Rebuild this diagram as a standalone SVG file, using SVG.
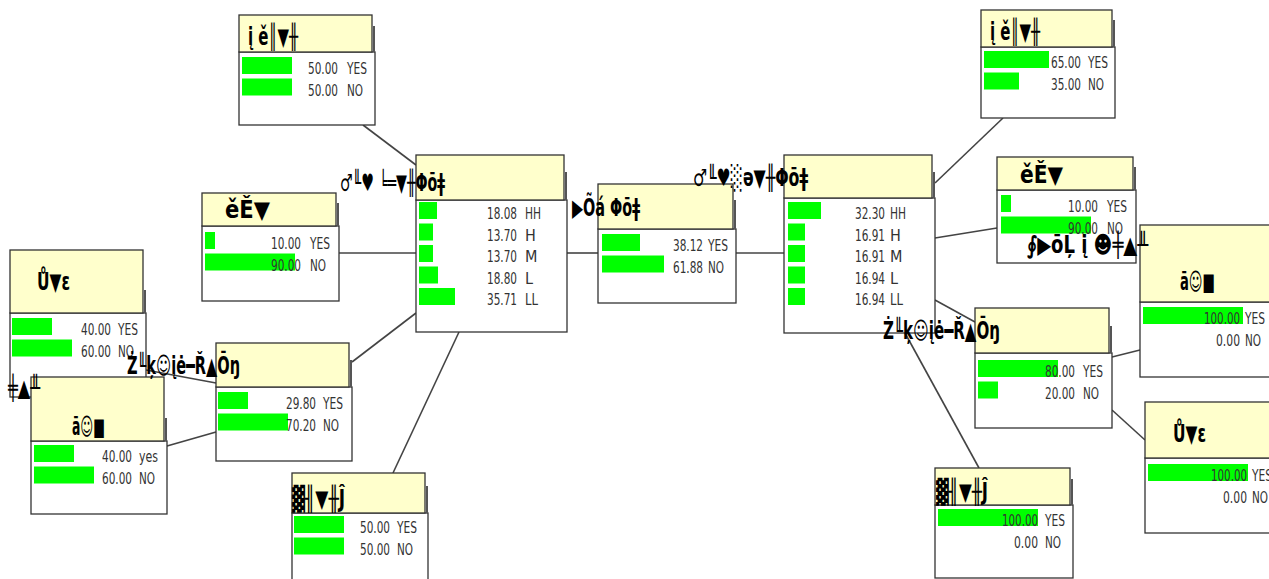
<svg xmlns="http://www.w3.org/2000/svg" width="1269" height="579" viewBox="0 0 1269 579">
<style>
.body{fill:#fff;stroke:#333;stroke-width:1.3}
.title{fill:#ffffcc;stroke:#333;stroke-width:1.3}
.sh{stroke:#555;stroke-width:2}
.bar{fill:#00ff00}
.num{font-family:"DejaVu Sans Condensed","DejaVu Sans",sans-serif;font-size:16px;fill:#333;text-anchor:end}
.lab{font-family:"DejaVu Sans Condensed","DejaVu Sans",sans-serif;font-size:16px;fill:#333}
.ttl{font-family:"DejaVu Sans","Noto Sans",sans-serif;font-weight:bold;font-size:24px;fill:#000}
.edge{stroke:#444;stroke-width:1.6;fill:none}
</style>
<rect width="1269" height="579" fill="#fff"/>
<g id="connectors">
<line class="edge" x1="363" y1="125" x2="416" y2="165"/>
<line class="edge" x1="339" y1="253" x2="416" y2="253"/>
<line class="edge" x1="352" y1="362" x2="416" y2="313"/>
<line class="edge" x1="393" y1="473" x2="459" y2="332"/>
<line class="edge" x1="567" y1="253" x2="598" y2="253"/>
<line class="edge" x1="736" y1="253" x2="784" y2="253"/>
<line class="edge" x1="935" y1="183" x2="1003" y2="118"/>
<line class="edge" x1="935" y1="238" x2="997" y2="228"/>
<line class="edge" x1="935" y1="300" x2="975" y2="322"/>
<line class="edge" x1="905" y1="333" x2="979" y2="468"/>
<line class="edge" x1="1112" y1="357" x2="1140" y2="350"/>
<line class="edge" x1="1112" y1="410" x2="1145" y2="440"/>
<line class="edge" x1="146" y1="370" x2="216" y2="383"/>
<line class="edge" x1="167" y1="446" x2="216" y2="432"/>
</g>

<g id="nodeN">
<rect class="body" x="10" y="313" width="136" height="84"/>
<rect class="title" x="10" y="250" width="133" height="63"/>
<line class="sh" x1="145" y1="290" x2="145" y2="313"/>
<text class="ttl" x="37" y="290" textLength="33" lengthAdjust="spacingAndGlyphs">Ů▼ɛ</text>
<rect class="bar" x="12" y="318" width="40" height="17"/>
<rect class="bar" x="12" y="339.5" width="60" height="17"/>
<text class="num" x="111" y="335" textLength="30" lengthAdjust="spacingAndGlyphs">40.00</text>
<text class="lab" x="118" y="335" textLength="20" lengthAdjust="spacingAndGlyphs">YES</text>
<text class="num" x="111" y="356.5" textLength="30" lengthAdjust="spacingAndGlyphs">60.00</text>
<text class="lab" x="118" y="356.5" textLength="16" lengthAdjust="spacingAndGlyphs">NO</text>
</g>

<g id="nodeO">
<rect class="body" x="31" y="441" width="136" height="73"/>
<rect class="title" x="31" y="377" width="133" height="64"/>
<line class="sh" x1="166" y1="418" x2="166" y2="441"/>
<text class="ttl" x="72" y="435" textLength="33" lengthAdjust="spacingAndGlyphs">ā☺■</text>
<text class="ttl" x="8" y="396" textLength="32" lengthAdjust="spacingAndGlyphs">╪▲╨</text>
<rect class="bar" x="34" y="445" width="40" height="17"/>
<rect class="bar" x="34" y="466.5" width="60" height="17"/>
<text class="num" x="132" y="462" textLength="30" lengthAdjust="spacingAndGlyphs">40.00</text>
<text class="lab" x="139" y="462" textLength="19" lengthAdjust="spacingAndGlyphs">yes</text>
<text class="num" x="132" y="483.5" textLength="30" lengthAdjust="spacingAndGlyphs">60.00</text>
<text class="lab" x="139" y="483.5" textLength="16" lengthAdjust="spacingAndGlyphs">NO</text>
</g>

<g id="nodeM">
<rect class="body" x="202" y="226" width="137" height="75"/>
<rect class="title" x="202" y="193" width="134" height="33"/>
<line class="sh" x1="338" y1="203" x2="338" y2="226"/>
<text class="ttl" x="225" y="218" textLength="45" lengthAdjust="spacingAndGlyphs">ěĚ▼</text>
<rect class="bar" x="205" y="232" width="10" height="17"/>
<rect class="bar" x="205" y="253.5" width="90" height="17"/>
<text class="num" x="301" y="249" textLength="30" lengthAdjust="spacingAndGlyphs">10.00</text>
<text class="lab" x="310" y="249" textLength="20" lengthAdjust="spacingAndGlyphs">YES</text>
<text class="num" x="301" y="270.5" textLength="30" lengthAdjust="spacingAndGlyphs">90.00</text>
<text class="lab" x="310" y="270.5" textLength="16" lengthAdjust="spacingAndGlyphs">NO</text>
</g>

<g id="nodeA">
<rect class="body" x="239" y="52" width="136" height="73"/>
<rect class="title" x="239" y="15" width="133" height="37"/>
<line class="sh" x1="374" y1="26" x2="374" y2="52"/>
<text class="ttl" x="248" y="45" textLength="50" lengthAdjust="spacingAndGlyphs">į ě║▼╫</text>
<rect class="bar" x="242" y="57" width="50" height="17"/>
<rect class="bar" x="242" y="78.5" width="50" height="17"/>
<text class="num" x="338" y="74" textLength="30" lengthAdjust="spacingAndGlyphs">50.00</text>
<text class="lab" x="347" y="74" textLength="20" lengthAdjust="spacingAndGlyphs">YES</text>
<text class="num" x="338" y="95.5" textLength="30" lengthAdjust="spacingAndGlyphs">50.00</text>
<text class="lab" x="347" y="95.5" textLength="16" lengthAdjust="spacingAndGlyphs">NO</text>
</g>

<g id="nodeL">
<rect class="body" x="216" y="387" width="136" height="74"/>
<rect class="title" x="216" y="343" width="133" height="44"/>
<line class="sh" x1="351" y1="360" x2="351" y2="387"/>
<text class="ttl" x="127" y="374" textLength="113" lengthAdjust="spacingAndGlyphs">Ż╙ķ☺įė━Ř▲Ōŋ</text>
<rect class="bar" x="218" y="392" width="30" height="17"/>
<rect class="bar" x="218" y="413.5" width="70" height="17"/>
<text class="num" x="316" y="409" textLength="30" lengthAdjust="spacingAndGlyphs">29.80</text>
<text class="lab" x="323" y="409" textLength="20" lengthAdjust="spacingAndGlyphs">YES</text>
<text class="num" x="316" y="430.5" textLength="30" lengthAdjust="spacingAndGlyphs">70.20</text>
<text class="lab" x="323" y="430.5" textLength="16" lengthAdjust="spacingAndGlyphs">NO</text>
</g>

<g id="nodeK">
<rect class="body" x="292" y="513" width="136" height="80"/>
<rect class="title" x="292" y="473" width="133" height="40"/>
<line class="sh" x1="427" y1="486" x2="427" y2="513"/>
<text class="ttl" x="292" y="507" textLength="53" lengthAdjust="spacingAndGlyphs">▓╢▼╫Ĵ</text>
<rect class="bar" x="294" y="516" width="50" height="17"/>
<rect class="bar" x="294" y="537.5" width="50" height="17"/>
<text class="num" x="390" y="533" textLength="30" lengthAdjust="spacingAndGlyphs">50.00</text>
<text class="lab" x="397" y="533" textLength="20" lengthAdjust="spacingAndGlyphs">YES</text>
<text class="num" x="390" y="554.5" textLength="30" lengthAdjust="spacingAndGlyphs">50.00</text>
<text class="lab" x="397" y="554.5" textLength="16" lengthAdjust="spacingAndGlyphs">NO</text>
</g>

<g id="nodeB">
<rect class="body" x="416" y="200" width="151" height="132"/>
<rect class="title" x="416" y="155" width="148" height="45"/>
<line class="sh" x1="566" y1="172" x2="566" y2="200"/>
<text class="ttl" x="340" y="191" textLength="105" lengthAdjust="spacingAndGlyphs">♂╙♥ ╘═▼╫Φōǂ</text>
<rect class="bar" x="419" y="202" width="18" height="17"/>
<rect class="bar" x="419" y="223.5" width="14" height="17"/>
<rect class="bar" x="419" y="245" width="14" height="17"/>
<rect class="bar" x="419" y="266.5" width="19" height="17"/>
<rect class="bar" x="419" y="288" width="36" height="17"/>
<text class="num" x="517" y="219" textLength="30" lengthAdjust="spacingAndGlyphs">18.08</text>
<text class="lab" x="525" y="219" textLength="16" lengthAdjust="spacingAndGlyphs">HH</text>
<text class="num" x="517" y="240.5" textLength="30" lengthAdjust="spacingAndGlyphs">13.70</text>
<text class="lab" x="525" y="240.5">H</text>
<text class="num" x="517" y="262" textLength="30" lengthAdjust="spacingAndGlyphs">13.70</text>
<text class="lab" x="525" y="262">M</text>
<text class="num" x="517" y="283.5" textLength="30" lengthAdjust="spacingAndGlyphs">18.80</text>
<text class="lab" x="525" y="283.5">L</text>
<text class="num" x="517" y="305" textLength="30" lengthAdjust="spacingAndGlyphs">35.71</text>
<text class="lab" x="525" y="305" textLength="13" lengthAdjust="spacingAndGlyphs">LL</text>
</g>

<g id="nodeC">
<rect class="body" x="598" y="229" width="138" height="74"/>
<rect class="title" x="598" y="184" width="135" height="45"/>
<line class="sh" x1="735" y1="200" x2="735" y2="229"/>
<text class="ttl" x="572" y="216" textLength="68" lengthAdjust="spacingAndGlyphs">▶Õá Φōǂ</text>
<rect class="bar" x="602" y="234" width="38" height="17"/>
<rect class="bar" x="602" y="255.5" width="62" height="17"/>
<text class="num" x="703" y="251" textLength="30" lengthAdjust="spacingAndGlyphs">38.12</text>
<text class="lab" x="708" y="251" textLength="20" lengthAdjust="spacingAndGlyphs">YES</text>
<text class="num" x="703" y="272.5" textLength="30" lengthAdjust="spacingAndGlyphs">61.88</text>
<text class="lab" x="708" y="272.5" textLength="16" lengthAdjust="spacingAndGlyphs">NO</text>
</g>

<g id="nodeD">
<rect class="body" x="784" y="198" width="151" height="135"/>
<rect class="title" x="784" y="155" width="148" height="43"/>
<line class="sh" x1="934" y1="172" x2="934" y2="198"/>
<text class="ttl" x="693" y="186" textLength="115" lengthAdjust="spacingAndGlyphs">♂╙♥░ǝ▼╫Φōǂ</text>
<rect class="bar" x="788" y="202" width="33" height="17"/>
<rect class="bar" x="788" y="223.5" width="17" height="17"/>
<rect class="bar" x="788" y="245" width="17" height="17"/>
<rect class="bar" x="788" y="266.5" width="17" height="17"/>
<rect class="bar" x="788" y="288" width="17" height="17"/>
<text class="num" x="885" y="219" textLength="30" lengthAdjust="spacingAndGlyphs">32.30</text>
<text class="lab" x="890" y="219" textLength="16" lengthAdjust="spacingAndGlyphs">HH</text>
<text class="num" x="885" y="240.5" textLength="30" lengthAdjust="spacingAndGlyphs">16.91</text>
<text class="lab" x="890" y="240.5">H</text>
<text class="num" x="885" y="262" textLength="30" lengthAdjust="spacingAndGlyphs">16.91</text>
<text class="lab" x="890" y="262">M</text>
<text class="num" x="885" y="283.5" textLength="30" lengthAdjust="spacingAndGlyphs">16.94</text>
<text class="lab" x="890" y="283.5">L</text>
<text class="num" x="885" y="305" textLength="30" lengthAdjust="spacingAndGlyphs">16.94</text>
<text class="lab" x="890" y="305" textLength="13" lengthAdjust="spacingAndGlyphs">LL</text>
</g>

<g id="nodeE">
<rect class="body" x="981" y="47" width="134" height="71"/>
<rect class="title" x="981" y="10" width="131" height="37"/>
<line class="sh" x1="1114" y1="20" x2="1114" y2="47"/>
<text class="ttl" x="990" y="40" textLength="50" lengthAdjust="spacingAndGlyphs">į ě║▼╫</text>
<rect class="bar" x="984" y="51" width="65" height="17"/>
<rect class="bar" x="984" y="72.5" width="35" height="17"/>
<text class="num" x="1081" y="68" textLength="30" lengthAdjust="spacingAndGlyphs">65.00</text>
<text class="lab" x="1088" y="68" textLength="20" lengthAdjust="spacingAndGlyphs">YES</text>
<text class="num" x="1081" y="89.5" textLength="30" lengthAdjust="spacingAndGlyphs">35.00</text>
<text class="lab" x="1088" y="89.5" textLength="16" lengthAdjust="spacingAndGlyphs">NO</text>
</g>

<g id="nodeF">
<rect class="body" x="997" y="190" width="139" height="73"/>
<rect class="title" x="997" y="157" width="136" height="33"/>
<line class="sh" x1="1135" y1="167" x2="1135" y2="190"/>
<text class="ttl" x="1020" y="183" textLength="43" lengthAdjust="spacingAndGlyphs">ěĚ▼</text>
<rect class="bar" x="1001" y="195" width="10" height="17"/>
<rect class="bar" x="1001" y="216.5" width="90" height="17"/>
<text class="num" x="1098" y="212" textLength="30" lengthAdjust="spacingAndGlyphs">10.00</text>
<text class="lab" x="1107" y="212" textLength="20" lengthAdjust="spacingAndGlyphs">YES</text>
<text class="num" x="1098" y="233.5" textLength="30" lengthAdjust="spacingAndGlyphs">90.00</text>
<text class="lab" x="1107" y="233.5" textLength="16" lengthAdjust="spacingAndGlyphs">NO</text>
</g>

<g id="nodeG">
<rect class="body" x="1140" y="302" width="140" height="75"/>
<rect class="title" x="1140" y="225" width="140" height="77"/>
<text class="ttl" x="1180" y="290" textLength="35" lengthAdjust="spacingAndGlyphs">ā☺■</text>
<text class="ttl" x="1027" y="253" textLength="121" lengthAdjust="spacingAndGlyphs">∮▶ōĻ į ☻╪▲╨</text>
<rect class="bar" x="1143" y="307" width="100" height="17"/>
<text class="num" x="1240" y="324" textLength="36" lengthAdjust="spacingAndGlyphs">100.00</text>
<text class="lab" x="1245" y="324" textLength="20" lengthAdjust="spacingAndGlyphs">YES</text>
<text class="num" x="1240" y="345.5" textLength="24" lengthAdjust="spacingAndGlyphs">0.00</text>
<text class="lab" x="1245" y="345.5" textLength="16" lengthAdjust="spacingAndGlyphs">NO</text>
</g>

<g id="nodeI">
<rect class="body" x="975" y="353" width="137" height="75"/>
<rect class="title" x="975" y="308" width="134" height="45"/>
<line class="sh" x1="1111" y1="326" x2="1111" y2="353"/>
<text class="ttl" x="883" y="339" textLength="117" lengthAdjust="spacingAndGlyphs">Ż╙ķ☺įė━Ř▲Ōŋ</text>
<rect class="bar" x="978" y="360" width="80" height="17"/>
<rect class="bar" x="978" y="381.5" width="20" height="17"/>
<text class="num" x="1075" y="377" textLength="30" lengthAdjust="spacingAndGlyphs">80.00</text>
<text class="lab" x="1083" y="377" textLength="20" lengthAdjust="spacingAndGlyphs">YES</text>
<text class="num" x="1075" y="398.5" textLength="30" lengthAdjust="spacingAndGlyphs">20.00</text>
<text class="lab" x="1083" y="398.5" textLength="16" lengthAdjust="spacingAndGlyphs">NO</text>
</g>

<g id="nodeH">
<rect class="body" x="1145" y="458" width="140" height="75"/>
<rect class="title" x="1145" y="402" width="140" height="56"/>
<text class="ttl" x="1173" y="442" textLength="33" lengthAdjust="spacingAndGlyphs">Ů▼ɛ</text>
<rect class="bar" x="1148" y="464" width="100" height="17"/>
<text class="num" x="1247" y="481" textLength="36" lengthAdjust="spacingAndGlyphs">100.00</text>
<text class="lab" x="1252" y="481" textLength="20" lengthAdjust="spacingAndGlyphs">YES</text>
<text class="num" x="1247" y="502.5" textLength="24" lengthAdjust="spacingAndGlyphs">0.00</text>
<text class="lab" x="1252" y="502.5" textLength="16" lengthAdjust="spacingAndGlyphs">NO</text>
</g>

<g id="nodeJ">
<rect class="body" x="935" y="505" width="138" height="73"/>
<rect class="title" x="935" y="468" width="135" height="37"/>
<line class="sh" x1="1072" y1="479" x2="1072" y2="505"/>
<text class="ttl" x="936" y="500" textLength="52" lengthAdjust="spacingAndGlyphs">▓╢▼╫Ĵ</text>
<rect class="bar" x="938" y="509" width="100" height="17"/>
<text class="num" x="1038" y="526" textLength="36" lengthAdjust="spacingAndGlyphs">100.00</text>
<text class="lab" x="1045" y="526" textLength="20" lengthAdjust="spacingAndGlyphs">YES</text>
<text class="num" x="1038" y="547.5" textLength="24" lengthAdjust="spacingAndGlyphs">0.00</text>
<text class="lab" x="1045" y="547.5" textLength="16" lengthAdjust="spacingAndGlyphs">NO</text>
</g>
</svg>
